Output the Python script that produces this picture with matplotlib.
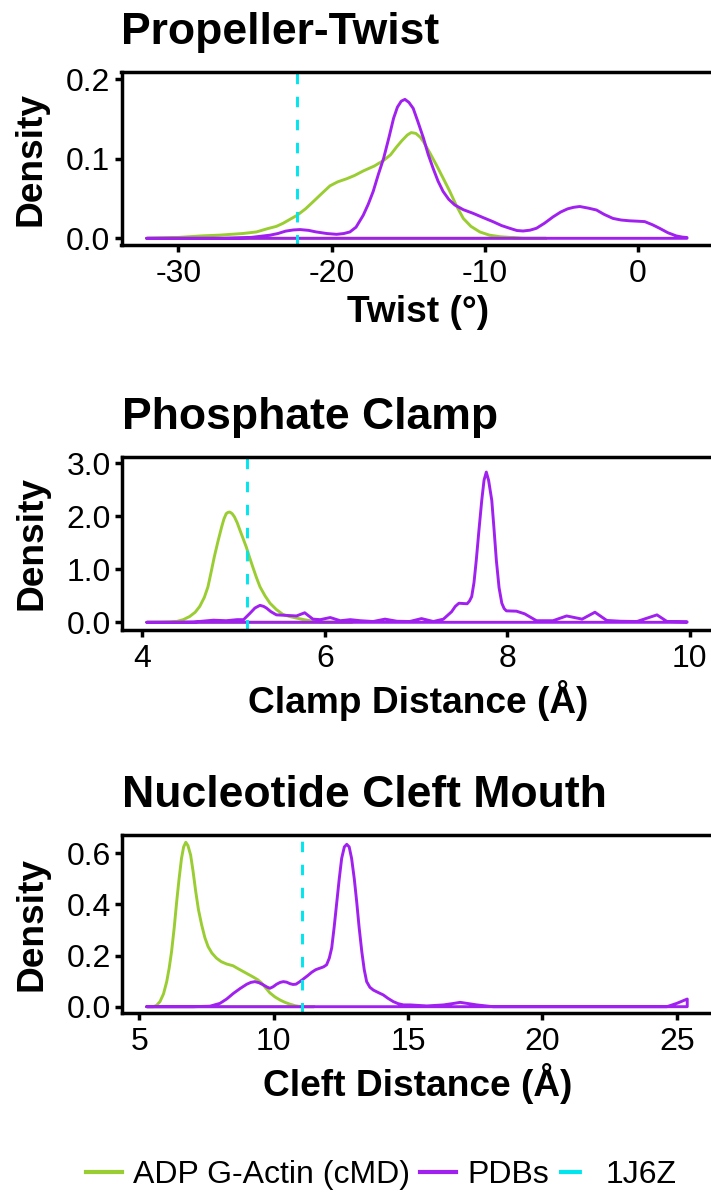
import numpy as np
import matplotlib
matplotlib.use('Agg')
import matplotlib.pyplot as plt
from matplotlib.lines import Line2D

# colours used by the original ggplot figure
GREEN = '#9ACD32'
PURPLE = '#A020F0'
CYAN = '#00E5EE'

# ---- Propeller-Twist ----
twist_cmd_x = [-32.06, -30.1, -28.5, -27.3, -25.8, -24.9, -24.2, -23.6, -23.15, -22.7,
               -22.24, -21.7, -21.2, -20.6, -20.1, -19.6, -19.0, -18.5, -17.9, -17.2,
               -16.6, -16.15, -15.75, -15.4, -15.05, -14.8, -14.5, -14.2, -14.0, -13.6,
               -13.15, -12.7, -12.28, -11.85, -11.4, -10.9, -10.32, -9.7, -9.0, -7.5, -6.0]
twist_cmd_y = [0.0, 0.001, 0.003, 0.004, 0.006, 0.008, 0.012, 0.015, 0.019, 0.024,
               0.029, 0.037, 0.046, 0.057, 0.066, 0.071, 0.075, 0.079, 0.085, 0.091,
               0.098, 0.105, 0.115, 0.123, 0.130, 0.133, 0.132, 0.127, 0.1215, 0.108,
               0.092, 0.075, 0.059, 0.041, 0.025, 0.015, 0.008, 0.004, 0.002, 0.0, 0.0]
twist_pdb_x = [-32.06, -27.0, -25.3, -24.0, -23.5, -23.0, -22.5, -22.06, -21.5, -21.0,
               -20.3, -19.67, -19.2, -18.8, -18.4, -17.93, -17.6, -17.28, -16.95, -16.6,
               -16.25, -15.95, -15.7, -15.45, -15.21, -14.95, -14.67, -14.35, -14.0, -13.7,
               -13.37, -13.05, -12.72, -12.35, -11.96, -11.4, -10.77, -10.1, -9.47, -8.9,
               -8.37, -7.9, -7.5, -7.05, -6.63, -6.1, -5.54, -5.05, -4.6, -4.2,
               -3.8, -3.25, -2.71, -2.2, -1.63, -1.1, -0.54, 0.0, 0.44, 0.95,
               1.41, 1.95, 2.5, 2.9, 3.2]
twist_pdb_y = [0.0, 0.0, 0.001, 0.004, 0.006, 0.009, 0.0105, 0.011, 0.010, 0.008,
               0.006, 0.005, 0.006, 0.008, 0.014, 0.029, 0.043, 0.059, 0.080, 0.1006,
               0.127, 0.151, 0.165, 0.1725, 0.1748, 0.171, 0.1635, 0.146, 0.126, 0.106,
               0.088, 0.072, 0.059, 0.049, 0.042, 0.036, 0.0315, 0.026, 0.021, 0.016,
               0.0126, 0.0098, 0.0092, 0.0102, 0.0126, 0.019, 0.027, 0.033, 0.037, 0.039,
               0.040, 0.038, 0.0356, 0.030, 0.025, 0.023, 0.022, 0.0215, 0.021, 0.017,
               0.0126, 0.007, 0.003, 0.0015, 0.001]

# ---- Phosphate Clamp ----
clamp_cmd_x = [4.05, 4.2, 4.3, 4.375, 4.45, 4.52, 4.58, 4.63, 4.68, 4.72,
               4.755, 4.79, 4.83, 4.87, 4.895, 4.92, 4.94, 4.96, 4.985, 5.01,
               5.04, 5.07, 5.105, 5.14, 5.175, 5.21, 5.25, 5.29, 5.345, 5.40,
               5.47, 5.54, 5.61, 5.69, 5.77, 5.84, 5.98, 6.3]
clamp_cmd_y = [0.0, 0.002, 0.006, 0.015, 0.05, 0.11, 0.19, 0.30, 0.47, 0.67,
               0.95, 1.24, 1.53, 1.80, 1.95, 2.05, 2.075, 2.08, 2.05, 1.99,
               1.88, 1.74, 1.58, 1.42, 1.23, 1.05, 0.85, 0.67, 0.50, 0.36,
               0.24, 0.15, 0.11, 0.08, 0.05, 0.03, 0.005, 0.0]
clamp_pdb_x = [4.05, 4.375, 4.56, 4.78, 4.92, 5.04, 5.11, 5.18, 5.235, 5.29,
               5.33, 5.36, 5.41, 5.47, 5.58, 5.69, 5.78, 5.87, 5.95, 6.06,
               6.17, 6.28, 6.39, 6.53, 6.66, 6.79, 6.93, 7.06, 7.19, 7.30,
               7.39, 7.43, 7.47, 7.51, 7.56, 7.585, 7.61, 7.635, 7.66, 7.69,
               7.72, 7.745, 7.77, 7.795, 7.83, 7.855, 7.88, 7.91, 7.94, 7.965,
               7.99, 8.10, 8.19, 8.32, 8.50, 8.65, 8.82, 8.96, 9.09, 9.24,
               9.42, 9.64, 9.75, 9.97]
clamp_pdb_y = [0.0, 0.0, 0.005, 0.04, 0.03, 0.05, 0.05, 0.17, 0.27, 0.32,
               0.30, 0.27, 0.20, 0.14, 0.13, 0.12, 0.18, 0.06, 0.05, 0.09,
               0.03, 0.05, 0.03, 0.015, 0.06, 0.02, 0.015, 0.07, 0.015, 0.06,
               0.20, 0.30, 0.36, 0.355, 0.35, 0.40, 0.485, 0.75, 1.17, 1.75,
               2.30, 2.68, 2.835, 2.68, 2.30, 1.75, 1.17, 0.65, 0.36, 0.26,
               0.216, 0.21, 0.16, 0.03, 0.03, 0.12, 0.06, 0.19, 0.035, 0.02,
               0.015, 0.14, 0.015, 0.01]

# ---- Nucleotide Cleft Mouth ----
cleft_cmd_x = [5.275, 5.52, 5.65, 5.77, 5.9, 6.02, 6.11, 6.2, 6.3, 6.39,
               6.48, 6.57, 6.65, 6.73, 6.81, 6.91, 7.0, 7.1, 7.2, 7.32,
               7.44, 7.56, 7.7, 7.87, 8.05, 8.25, 8.49, 8.67, 8.86, 9.05,
               9.24, 9.4, 9.55, 9.7, 9.86, 10.05, 10.24, 10.42, 10.6, 10.8,
               11.04, 11.5]
cleft_cmd_y = [0.0, 0.0, 0.006, 0.02, 0.05, 0.098, 0.15, 0.215, 0.31, 0.41,
               0.50, 0.58, 0.625, 0.643, 0.63, 0.593, 0.53, 0.45, 0.38, 0.32,
               0.27, 0.235, 0.21, 0.19, 0.176, 0.167, 0.160, 0.149, 0.138, 0.127,
               0.116, 0.106, 0.093, 0.074, 0.054, 0.038, 0.026, 0.017, 0.01, 0.004,
               0.0, 0.0]
cleft_pdb_x = [5.275, 7.0, 7.63, 8.0, 8.25, 8.5, 8.75, 9.0, 9.15, 9.3,
               9.45, 9.62, 9.75, 9.86, 9.98, 10.11, 10.24, 10.36, 10.48, 10.61,
               10.72, 10.83, 10.96, 11.1, 11.26, 11.42, 11.57, 11.73, 11.86, 11.97,
               12.07, 12.16, 12.25, 12.35, 12.44, 12.53, 12.63, 12.72, 12.81, 12.9,
               13.0, 13.09, 13.18, 13.28, 13.37, 13.46, 13.58, 13.71, 13.9, 14.08,
               14.25, 14.45, 14.63, 14.83, 15.08, 15.70, 16.32, 16.65, 16.94, 17.25,
               17.56, 18.17, 24.63, 25.0, 25.39]
cleft_pdb_y = [0.0, 0.0, 0.002, 0.013, 0.03, 0.052, 0.071, 0.088, 0.095, 0.098,
               0.094, 0.085, 0.077, 0.072, 0.078, 0.088, 0.095, 0.098, 0.096, 0.09,
               0.087, 0.088, 0.097, 0.108, 0.121, 0.135, 0.145, 0.151, 0.156, 0.164,
               0.19, 0.23, 0.31, 0.41, 0.50, 0.58, 0.625, 0.635, 0.625, 0.58,
               0.50, 0.41, 0.31, 0.215, 0.145, 0.098, 0.076, 0.065, 0.055, 0.046,
               0.033, 0.02, 0.012, 0.007, 0.007, 0.003, 0.007, 0.012, 0.017, 0.012,
               0.007, 0.0, 0.0, 0.013, 0.03]

# 1J6Z reference value for each panel
ref_1j6z = [-22.24, 5.15, 11.07]

titles = ['Propeller-Twist', 'Phosphate Clamp', 'Nucleotide Cleft Mouth']
xlabels = ['Twist (°)', 'Clamp Distance (Å)', 'Cleft Distance (Å)']
xticks = [[-30, -20, -10, 0], [4, 6, 8, 10], [5, 10, 15, 20, 25]]
yticks = [[0.0, 0.1, 0.2], [0.0, 1.0, 2.0, 3.0], [0.0, 0.2, 0.4, 0.6]]
ytick_labels = [['0.0', '0.1', '0.2'], ['0.0', '1.0', '2.0', '3.0'], ['0.0', '0.2', '0.4', '0.6']]

plt.rcParams['font.family'] = ['Liberation Sans', 'DejaVu Sans']
plt.rcParams['axes.unicode_minus'] = False

W, H = 711, 1193
fig = plt.figure(figsize=(W / 100, H / 100), dpi=100)

# panel boxes in pixels: left, top, right, bottom
boxes = [(121.5, 71.7, 714, 245.3), (122, 456.7, 714, 630.3), (122, 835, 714, 1013.3)]
xlims = [(-33.705, 4.96), (3.778, 10.265), (4.356, 26.386)]
ylims = [(-0.0088, 0.2096), (-0.151, 3.125), (-0.0258, 0.6715)]

curves = [(twist_cmd_x, twist_cmd_y, twist_pdb_x, twist_pdb_y),
          (clamp_cmd_x, clamp_cmd_y, clamp_pdb_x, clamp_pdb_y),
          (cleft_cmd_x, cleft_cmd_y, cleft_pdb_x, cleft_pdb_y)]


def density_outline(ax, x, y, color):
    # geom_density draws a closed outline, baseline included
    x = np.asarray(x)
    y = np.asarray(y)
    xs = np.r_[x, x[-1], x[0], x[0]]
    ys = np.r_[y, 0.0, 0.0, y[0]]
    ax.plot(xs, ys, color=color, lw=2.1, solid_joinstyle='round', solid_capstyle='round')


for i in range(3):
    l, t, r, b = boxes[i]
    ax = fig.add_axes([l / W, 1 - b / H, (r - l) / W, (b - t) / H])
    cx, cy, px, py = curves[i]
    density_outline(ax, cx, cy, GREEN)
    density_outline(ax, px, py, PURPLE)
    ax.axvline(ref_1j6z[i], color=CYAN, lw=2.1, dashes=(3.6, 4.3))

    ax.set_xlim(*xlims[i])
    ax.set_ylim(*ylims[i])
    ax.set_xticks(xticks[i])
    ax.set_xticklabels([str(v) for v in xticks[i]])
    ax.set_yticks(yticks[i])
    ax.set_yticklabels(ytick_labels[i])
    for sp in ax.spines.values():
        sp.set_linewidth(2.5)
        sp.set_color('black')
    ax.tick_params(direction='out', length=5, width=2.5, labelsize=23, pad=3, colors='black')
    ax.tick_params(axis='x', pad=5)

    ax.set_title(titles[i], loc='left', fontsize=32, fontweight='bold', pad=20)
    ax.set_xlabel(xlabels[i], fontsize=26.7, fontweight='bold', labelpad=4)
    ax.set_ylabel('Density', fontsize=26.7, fontweight='bold', labelpad=12.5)

handles = [Line2D([], [], color=GREEN, lw=3),
           Line2D([], [], color=PURPLE, lw=3),
           Line2D([], [], color=CYAN, lw=3, dashes=(5.5, 10))]
fig.legend(handles, ['ADP G-Actin (cMD)', 'PDBs', '1J6Z'], loc='center',
           bbox_to_anchor=(0.5366, 0.0151), ncol=3, frameon=False, fontsize=23,
           handlelength=1.13, handletextpad=0.34, columnspacing=0.31)

fig.savefig('out.png', dpi=100)
